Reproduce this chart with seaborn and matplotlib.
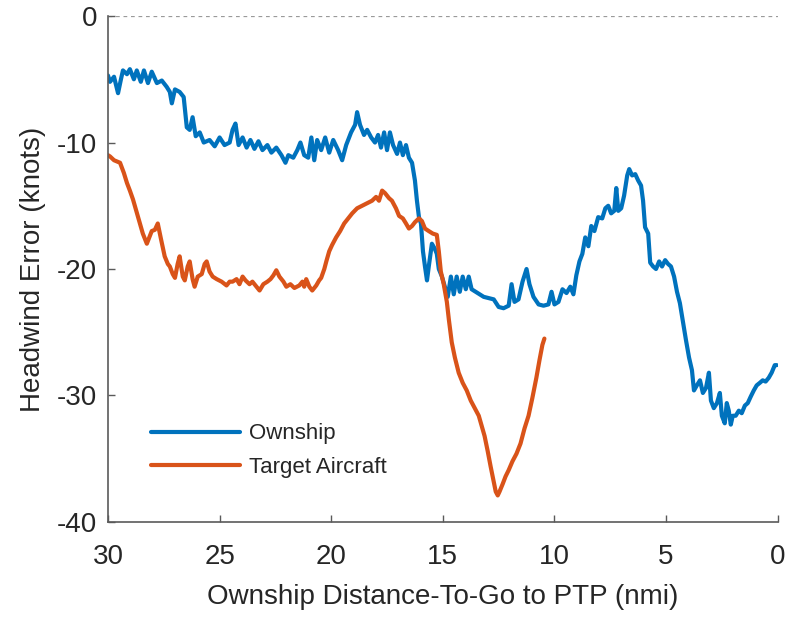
import numpy as np
import pandas as pd
import matplotlib
matplotlib.use("Agg")
import matplotlib.pyplot as plt
import seaborn as sns

# Ownship headwind error vs. distance-to-go (nmi, knots)
own_dist = [30.0, 29.91, 29.73, 29.55, 29.42, 29.33, 29.15, 29.02, 28.84, 28.71, 28.53, 28.39,
            28.21, 28.04, 27.81, 27.59, 27.37, 27.23, 27.14, 27.0, 26.79, 26.61, 26.47, 26.34,
            26.21, 26.07, 25.89, 25.71, 25.45, 25.22, 25.0, 24.78, 24.55, 24.42, 24.29, 24.15,
            23.97, 23.79, 23.62, 23.44, 23.26, 23.08, 22.86, 22.68, 22.46, 22.23, 22.05, 21.92,
            21.7, 21.52, 21.38, 21.21, 21.03, 20.89, 20.76, 20.63, 20.45, 20.27, 20.09, 19.91,
            19.69, 19.51, 19.33, 19.11, 18.93, 18.84, 18.71, 18.53, 18.39, 18.21, 18.04, 17.9,
            17.77, 17.63, 17.5, 17.37, 17.23, 17.05, 16.92, 16.79, 16.65, 16.52, 16.38, 16.25,
            16.16, 16.07, 15.98, 15.89, 15.8, 15.71, 15.63, 15.49, 15.36, 15.27, 15.18, 15.04,
            14.91, 14.78, 14.64, 14.51, 14.38, 14.24, 14.11, 13.97, 13.84, 13.71, 13.53, 13.35,
            13.17, 12.95, 12.72, 12.5, 12.28, 12.05, 11.92, 11.79, 11.61, 11.43, 11.25, 11.12,
            10.94, 10.71, 10.49, 10.27, 10.13, 10.0, 9.82, 9.64, 9.46, 9.29, 9.15, 9.02,
            8.88, 8.75, 8.62, 8.48, 8.35, 8.21, 8.04, 7.86, 7.72, 7.59, 7.46, 7.32,
            7.23, 7.14, 7.01, 6.88, 6.74, 6.65, 6.52, 6.38, 6.25, 6.12, 6.03, 5.94,
            5.8, 5.71, 5.58, 5.45, 5.31, 5.18, 5.04, 4.91, 4.78, 4.64, 4.51, 4.38,
            4.24, 4.11, 3.97, 3.84, 3.75, 3.62, 3.48, 3.35, 3.21, 3.08, 2.99, 2.86,
            2.72, 2.59, 2.5, 2.37, 2.28, 2.19, 2.1, 2.01, 1.88, 1.74, 1.61, 1.47,
            1.34, 1.21, 1.07, 0.94, 0.8, 0.67, 0.54, 0.4, 0.27, 0.13, 0.04]
own_err = [-4.7, -5.2, -4.8, -6.1, -5.0, -4.3, -4.6, -4.2, -5.0, -4.3, -5.2, -4.3,
           -5.3, -4.4, -5.3, -5.1, -5.6, -6.0, -6.9, -5.8, -6.0, -6.4, -8.8, -9.0,
           -8.0, -9.5, -9.2, -10.0, -9.8, -10.3, -9.6, -10.2, -10.0, -9.0, -8.5, -10.2,
           -9.6, -10.4, -9.8, -10.5, -9.9, -10.6, -10.2, -10.8, -10.4, -11.0, -11.6, -11.0,
           -11.2, -10.6, -10.0, -11.0, -11.2, -9.6, -11.4, -9.8, -10.6, -9.6, -10.8, -9.8,
           -10.6, -11.4, -10.2, -9.2, -8.6, -7.6, -8.6, -9.4, -9.0, -9.6, -10.0, -9.4,
           -10.4, -9.2, -10.6, -9.2, -10.2, -10.9, -10.0, -11.0, -10.2, -11.2, -11.6, -13.0,
           -14.6, -15.9, -16.4, -18.6, -19.8, -20.9, -19.8, -18.0, -18.4, -18.8, -20.0, -20.6,
           -21.4, -22.2, -20.6, -22.0, -20.6, -21.8, -20.6, -21.6, -20.6, -21.6, -21.8, -22.0,
           -22.2, -22.3, -22.4, -23.0, -23.1, -22.9, -21.2, -22.6, -22.4, -21.0, -20.0, -21.2,
           -22.2, -22.8, -22.9, -22.8, -21.8, -22.8, -22.6, -21.6, -21.9, -21.4, -22.0, -20.5,
           -19.4, -18.8, -17.5, -18.2, -16.6, -17.0, -15.9, -16.0, -15.2, -15.0, -15.6, -15.4,
           -13.6, -15.4, -15.2, -14.2, -12.6, -12.1, -12.6, -12.5, -13.0, -13.4, -14.6, -16.7,
           -17.2, -19.5, -19.8, -20.0, -19.4, -19.8, -19.3, -19.6, -19.8, -20.6, -21.8, -22.7,
           -24.2, -25.6, -27.0, -28.0, -29.6, -29.2, -28.8, -29.8, -29.4, -28.2, -30.4, -31.0,
           -30.6, -29.8, -31.6, -32.2, -30.6, -31.2, -32.3, -31.6, -31.6, -31.2, -31.4, -30.8,
           -30.6, -30.1, -29.6, -29.2, -29.0, -28.8, -28.9, -28.6, -28.2, -27.6, -27.6]

# Target aircraft headwind error vs. ownship distance-to-go
tgt_dist = [30.0, 29.91, 29.73, 29.46, 29.29, 29.15, 29.02, 28.88, 28.75, 28.57, 28.44, 28.26,
            28.13, 28.04, 27.9, 27.77, 27.63, 27.46, 27.32, 27.23, 27.1, 27.0, 26.88, 26.79,
            26.65, 26.56, 26.43, 26.34, 26.21, 26.12, 25.98, 25.8, 25.67, 25.58, 25.45, 25.31,
            25.13, 24.91, 24.69, 24.55, 24.42, 24.24, 24.11, 23.97, 23.84, 23.66, 23.53, 23.35,
            23.21, 23.04, 22.86, 22.72, 22.59, 22.46, 22.32, 22.14, 22.01, 21.83, 21.65, 21.43,
            21.29, 21.21, 21.12, 20.98, 20.85, 20.67, 20.54, 20.45, 20.31, 20.22, 20.09, 19.96,
            19.78, 19.6, 19.42, 19.24, 19.06, 18.84, 18.62, 18.39, 18.17, 17.99, 17.86, 17.72,
            17.59, 17.41, 17.28, 17.1, 16.96, 16.79, 16.65, 16.52, 16.38, 16.25, 16.07, 15.94,
            15.8, 15.63, 15.45, 15.27, 15.18, 15.09, 14.96, 14.82, 14.73, 14.6, 14.46, 14.29,
            14.11, 13.93, 13.75, 13.57, 13.39, 13.26, 13.13, 12.99, 12.86, 12.72, 12.63, 12.54,
            12.46, 12.32, 12.19, 12.05, 11.88, 11.7, 11.52, 11.34, 11.16, 10.99, 10.81, 10.67,
            10.54, 10.45]
tgt_err = [-11.0, -11.1, -11.4, -11.6, -12.4, -13.2, -13.8, -14.5, -15.3, -16.4, -17.2, -18.0,
           -17.4, -17.0, -16.9, -16.4, -17.6, -19.0, -19.6, -19.8, -20.4, -20.7, -19.6, -19.0,
           -20.6, -20.9, -19.8, -19.4, -20.8, -21.4, -20.6, -20.4, -19.6, -19.4, -20.2, -20.6,
           -20.8, -21.0, -21.3, -21.0, -21.0, -20.8, -21.2, -20.6, -20.9, -21.2, -21.0, -21.4,
           -21.7, -21.2, -21.0, -20.8, -20.5, -20.1, -20.6, -21.0, -21.4, -21.2, -21.5, -21.3,
           -21.0, -21.4, -20.8, -21.4, -21.7, -21.3, -20.9, -20.7, -20.0, -19.4, -18.6, -18.1,
           -17.5, -17.0, -16.4, -16.0, -15.6, -15.2, -15.0, -14.8, -14.6, -14.3, -14.6, -13.8,
           -14.0, -14.4, -14.6, -15.2, -15.8, -16.0, -16.4, -16.8, -16.6, -16.3, -16.0, -16.2,
           -16.8, -17.0, -17.2, -17.3, -18.6, -20.2, -21.2, -22.6, -24.0, -25.8, -27.0, -28.2,
           -29.0, -29.6, -30.4, -31.0, -31.6, -32.4, -33.2, -34.4, -35.6, -36.8, -37.6, -37.9,
           -37.6, -37.0, -36.4, -35.9, -35.2, -34.6, -33.8, -32.6, -31.6, -30.2, -28.6, -27.2,
           -26.0, -25.5]

series_names = ["Ownship", "Target Aircraft"]
x_ticks = [30, 25, 20, 15, 10, 5, 0]
y_ticks = [0, -10, -20, -30, -40]

df = pd.concat([
    pd.DataFrame({"dist": own_dist, "err": own_err, "series": series_names[0]}),
    pd.DataFrame({"dist": tgt_dist, "err": tgt_err, "series": series_names[1]}),
], ignore_index=True)

sns.set_style("ticks")
plt.rcParams["font.family"] = ["Liberation Sans", "DejaVu Sans"]

fig = plt.figure(figsize=(7.86, 6.17), dpi=100)
ax = fig.add_axes([0.1374, 0.154, 0.852, 0.820])

palette = {"Ownship": "#0072BD", "Target Aircraft": "#D95319"}
sns.lineplot(data=df, x="dist", y="err", hue="series", palette=palette,
             linewidth=3.0, sort=False, ax=ax, estimator=None)

ax.axhline(0, color="#9a9a9a", linestyle=(0, (3, 3)), linewidth=0.9, zorder=0)

ax.set_xlim(30, 0)
ax.set_ylim(-40, 0)
ax.set_xticks(x_ticks)
ax.set_yticks(y_ticks)
ax.set_xticklabels([str(t) for t in x_ticks])
ax.set_yticklabels([str(t) for t in y_ticks])

spine_col = "#5a5a5a"
for side in ["top", "right"]:
    ax.spines[side].set_visible(False)
for side in ["left", "bottom"]:
    ax.spines[side].set_color(spine_col)
    ax.spines[side].set_linewidth(1.2)

ax.tick_params(axis="both", direction="in", length=5, width=1.0, color=spine_col,
               labelsize=20, labelcolor="#262626")
ax.tick_params(axis="x", pad=16)
ax.tick_params(axis="y", pad=8)

ax.set_xlabel("Ownship Distance-To-Go to PTP (nmi)", fontsize=20, color="#262626", labelpad=10)
ax.set_ylabel("Headwind Error (knots)", fontsize=20, color="#262626", labelpad=8)

leg = ax.legend(loc="lower left", bbox_to_anchor=(0.035, 0.048), frameon=False,
                fontsize=16, handlelength=4.0, handletextpad=0.4, labelspacing=0.55,
                title=None)
for line in leg.get_lines():
    line.set_linewidth(3.0)

fig.savefig("out.png", dpi=100)
